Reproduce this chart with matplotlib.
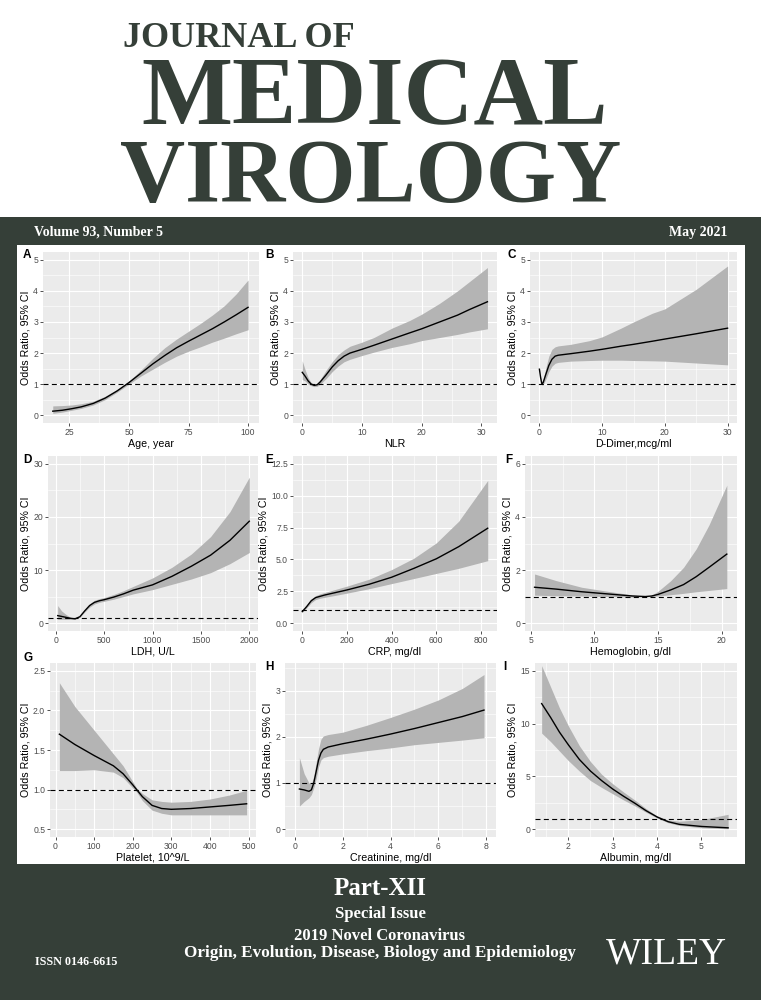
import matplotlib
matplotlib.use("Agg")
import matplotlib.pyplot as plt
from matplotlib.patches import Rectangle
from matplotlib.ticker import FixedLocator, AutoMinorLocator

# couleurs de la couverture
DARK = '#353f38'
PANEL = '#ebebeb'
BAND = '#b4b4b4'

# ---- donnees ----
age_x = [18, 22, 26, 30, 35, 40, 45, 50, 55, 60, 65, 70, 75, 80, 85, 90, 95, 100]
age_or = [0.13, 0.16, 0.21, 0.27, 0.38, 0.55, 0.78, 1.05, 1.35, 1.65, 1.92, 2.17, 2.38, 2.58, 2.78, 3.0, 3.23, 3.47]
age_lo = [0.06, 0.1, 0.16, 0.22, 0.33, 0.5, 0.74, 1.0, 1.26, 1.48, 1.7, 1.9, 2.06, 2.2, 2.35, 2.48, 2.62, 2.75]
age_hi = [0.3, 0.31, 0.33, 0.37, 0.45, 0.61, 0.83, 1.1, 1.45, 1.83, 2.17, 2.45, 2.7, 2.95, 3.22, 3.52, 3.9, 4.35]

nlr_x = [0, 0.5, 1, 1.5, 2, 2.5, 3, 4, 5, 6, 7, 8, 10, 12, 15, 18, 20, 23, 26, 28, 31]
nlr_or = [1.38, 1.25, 1.1, 1.0, 0.96, 0.98, 1.07, 1.3, 1.55, 1.75, 1.9, 2.0, 2.12, 2.25, 2.45, 2.65, 2.78, 3.0, 3.22, 3.4, 3.65]
nlr_lo = [1.15, 1.1, 1.0, 0.95, 0.92, 0.93, 1.0, 1.18, 1.4, 1.58, 1.72, 1.8, 1.92, 2.03, 2.18, 2.3, 2.4, 2.5, 2.6, 2.68, 2.78]
nlr_hi = [1.75, 1.45, 1.2, 1.05, 1.0, 1.03, 1.15, 1.45, 1.72, 1.95, 2.1, 2.22, 2.35, 2.5, 2.8, 3.05, 3.25, 3.6, 4.0, 4.3, 4.75]

dd_x = [0, 0.2, 0.4, 0.6, 1, 1.5, 2, 2.5, 3, 5, 8, 10, 13, 15, 18, 20, 25, 30]
dd_or = [1.48, 1.2, 1.0, 1.05, 1.3, 1.6, 1.8, 1.9, 1.93, 1.98, 2.06, 2.12, 2.22, 2.28, 2.38, 2.45, 2.62, 2.8]
dd_lo = [1.45, 1.15, 0.97, 0.98, 1.15, 1.4, 1.58, 1.67, 1.7, 1.74, 1.76, 1.77, 1.77, 1.76, 1.75, 1.74, 1.68, 1.62]
dd_hi = [1.5, 1.25, 1.05, 1.15, 1.5, 1.9, 2.12, 2.2, 2.23, 2.28, 2.4, 2.52, 2.8, 3.0, 3.28, 3.42, 4.05, 4.8]

ldh_x = [20, 60, 100, 150, 200, 250, 300, 350, 400, 450, 500, 600, 700, 800, 1000, 1200, 1400, 1600, 1800, 2000]
ldh_or = [1.4, 1.25, 1.1, 0.9, 0.8, 1.2, 2.3, 3.3, 3.9, 4.2, 4.4, 4.9, 5.5, 6.2, 7.2, 8.8, 10.7, 12.8, 15.6, 19.2]
ldh_lo = [0.7, 0.7, 0.7, 0.7, 0.72, 1.1, 2.1, 3.0, 3.6, 3.9, 4.1, 4.5, 5.0, 5.5, 6.3, 7.3, 8.3, 9.5, 11.2, 13.3]
ldh_hi = [3.3, 2.3, 1.7, 1.1, 0.85, 1.3, 2.5, 3.6, 4.3, 4.6, 4.8, 5.4, 6.1, 6.9, 8.5, 10.5, 13.0, 16.3, 21.0, 27.5]

crp_x = [0, 20, 40, 60, 80, 100, 150, 200, 300, 400, 500, 600, 700, 830]
crp_or = [0.9, 1.3, 1.75, 2.0, 2.1, 2.2, 2.4, 2.6, 3.05, 3.6, 4.3, 5.05, 6.0, 7.45]
crp_lo = [0.85, 1.2, 1.6, 1.85, 1.95, 2.02, 2.18, 2.35, 2.7, 3.1, 3.5, 3.9, 4.3, 4.9]
crp_hi = [0.95, 1.4, 1.9, 2.15, 2.3, 2.4, 2.65, 2.9, 3.45, 4.2, 5.1, 6.3, 8.0, 11.2]

hb_x = [5.3, 7, 9, 11, 13, 14, 14.5, 15, 16, 17, 18, 19, 20.4]
hb_or = [1.35, 1.28, 1.18, 1.1, 1.02, 1.0, 1.02, 1.08, 1.25, 1.45, 1.75, 2.1, 2.6]
hb_lo = [1.05, 1.03, 1.02, 1.0, 0.98, 0.99, 1.0, 1.02, 1.07, 1.12, 1.18, 1.23, 1.3]
hb_hi = [1.85, 1.6, 1.35, 1.2, 1.06, 1.01, 1.05, 1.2, 1.6, 2.1, 2.8, 3.7, 5.2]

plt_x = [10, 50, 100, 150, 175, 200, 210, 225, 250, 275, 300, 350, 400, 450, 495]
plt_or = [1.7, 1.57, 1.43, 1.3, 1.2, 1.06, 1.0, 0.91, 0.8, 0.76, 0.75, 0.76, 0.78, 0.8, 0.82]
plt_lo = [1.24, 1.24, 1.25, 1.22, 1.15, 1.02, 0.97, 0.86, 0.74, 0.7, 0.68, 0.68, 0.68, 0.68, 0.68]
plt_hi = [2.35, 2.05, 1.75, 1.45, 1.3, 1.1, 1.02, 0.95, 0.87, 0.85, 0.84, 0.85, 0.88, 0.93, 0.99]

cr_x = [0.2, 0.4, 0.6, 0.7, 0.8, 0.9, 1.0, 1.1, 1.2, 1.4, 2, 3, 4, 5, 6, 7, 7.9]
cr_or = [0.87, 0.85, 0.82, 0.85, 1.0, 1.25, 1.5, 1.65, 1.73, 1.78, 1.85, 1.95, 2.06, 2.18, 2.31, 2.44, 2.58]
cr_lo = [0.5, 0.6, 0.68, 0.75, 0.9, 1.1, 1.35, 1.5, 1.55, 1.58, 1.63, 1.7, 1.76, 1.83, 1.88, 1.93, 1.98]
cr_hi = [1.55, 1.2, 1.0, 0.98, 1.15, 1.45, 1.75, 1.95, 2.02, 2.05, 2.1, 2.25, 2.42, 2.6, 2.8, 3.05, 3.35]

alb_x = [1.4, 1.6, 1.8, 2.0, 2.25, 2.5, 2.75, 3.0, 3.25, 3.5, 3.75, 4.0, 4.25, 4.5, 5.0, 5.6]
alb_or = [11.9, 10.6, 9.2, 8.0, 6.6, 5.5, 4.6, 3.8, 3.1, 2.45, 1.75, 1.15, 0.7, 0.45, 0.25, 0.12]
alb_lo = [9.1, 8.3, 7.4, 6.5, 5.5, 4.6, 3.95, 3.35, 2.75, 2.2, 1.6, 1.05, 0.6, 0.35, 0.12, 0.03]
alb_hi = [15.5, 13.5, 11.5, 9.8, 7.9, 6.4, 5.2, 4.3, 3.5, 2.75, 1.95, 1.25, 0.85, 0.75, 0.9, 1.4]

# lettre, x, OR, bas, haut, titre x, ticks x, ticks y, etiquettes y
panels = [
    ('A', age_x, age_or, age_lo, age_hi, 'Age, year', [25, 50, 75, 100], [0, 1, 2, 3, 4, 5], None),
    ('B', nlr_x, nlr_or, nlr_lo, nlr_hi, 'NLR', [0, 10, 20, 30], [0, 1, 2, 3, 4, 5], None),
    ('C', dd_x, dd_or, dd_lo, dd_hi, 'D-Dimer,mcg/ml', [0, 10, 20, 30], [0, 1, 2, 3, 4, 5], None),
    ('D', ldh_x, ldh_or, ldh_lo, ldh_hi, 'LDH, U/L', [0, 500, 1000, 1500, 2000], [0, 10, 20, 30], None),
    ('E', crp_x, crp_or, crp_lo, crp_hi, 'CRP, mg/dl', [0, 200, 400, 600, 800],
     [0, 2.5, 5, 7.5, 10, 12.5], ['0.0', '2.5', '5.0', '7.5', '10.0', '12.5']),
    ('F', hb_x, hb_or, hb_lo, hb_hi, 'Hemoglobin, g/dl', [5, 10, 15, 20], [0, 2, 4, 6], None),
    ('G', plt_x, plt_or, plt_lo, plt_hi, 'Platelet, 10^9/L', [0, 100, 200, 300, 400, 500],
     [0.5, 1.0, 1.5, 2.0, 2.5], ['0.5', '1.0', '1.5', '2.0', '2.5']),
    ('H', cr_x, cr_or, cr_lo, cr_hi, 'Creatinine, mg/dl', [0, 2, 4, 6, 8], [0, 1, 2, 3], None),
    ('I', alb_x, alb_or, alb_lo, alb_hi, 'Albumin, mg/dl', [2, 3, 4, 5], [0, 5, 10, 15], None),
]

# limites des axes (avec l'expansion de ggplot)
xlims = [(13.9, 104.6), (-1.55, 32.6), (-1.5, 31.5), (-80, 2090), (-41.5, 871.5),
         (4.55, 21.2), (-14.3, 519.3), (-0.4, 8.4), (1.25, 5.8)]
ylims = [(-0.25, 5.25), (-0.25, 5.25), (-0.25, 5.25), (-1.5, 31.5), (-0.625, 13.125),
         (-0.3, 6.3), (0.4, 2.6), (-0.17, 3.6), (-0.75, 15.75)]

# position des panneaux en pixels : gauche, droite, haut, bas
boxes = [(43, 259, 252, 423), (293, 497, 252, 423), (530, 737, 252, 423),
         (48, 258, 456, 631), (293, 497, 456, 631), (525, 737, 456, 631),
         (50, 256, 663, 837), (285, 496, 663, 837), (535, 737, 663, 837)]
letters_xy = [(23, 258), (265, 258), (508, 258), (23, 463), (265, 463), (505, 463),
              (24, 661), (265, 670), (503, 670)]

W, H = 761, 1000
fig = plt.figure(figsize=(7.61, 10), dpi=100)
fig.patch.set_facecolor('white')

# fond sombre et cadre blanc
fig.patches.append(Rectangle((0, 0), 1, 1 - 217 / H, transform=fig.transFigure,
                             facecolor=DARK, edgecolor='none', zorder=-3))
fig.patches.append(Rectangle((17 / W, 1 - 864 / H), (745 - 17) / W, (864 - 245) / H,
                             transform=fig.transFigure, facecolor='white',
                             edgecolor='none', zorder=-2))

# titre
serif = 'Liberation Serif'
fig.text(239 / W, 1 - 47 / H, 'JOURNAL OF', fontsize=26, fontweight='bold',
         family=serif, color=DARK, ha='center', va='baseline')
fig.text(375 / W, 1 - 124 / H, 'MEDICAL', fontsize=69.5, fontweight='bold',
         family=serif, color=DARK, ha='center', va='baseline')
fig.text(371 / W, 1 - 202 / H, 'VIROLOGY', fontsize=65, fontweight='bold',
         family=serif, color=DARK, ha='center', va='baseline')
fig.text(34 / W, 1 - 236 / H, 'Volume 93, Number 5', fontsize=10, fontweight='bold',
         family=serif, color='white', ha='left', va='baseline')
fig.text(727 / W, 1 - 236 / H, 'May 2021', fontsize=10, fontweight='bold',
         family=serif, color='white', ha='right', va='baseline')

for i, (let, x, y, lo, hi, xlab, xt, yt, ytl) in enumerate(panels):
    l, r, t, b = boxes[i]
    ax = fig.add_axes([l / W, 1 - b / H, (r - l) / W, (b - t) / H])
    ax.set_facecolor(PANEL)
    ax.fill_between(x, lo, hi, color=BAND, lw=0, zorder=2)
    ax.plot(x, y, color='black', lw=1.0, zorder=3)
    ax.axhline(1, color='black', lw=0.8, ls=(0, (4.5, 3)), zorder=4)
    ax.set_xlim(*xlims[i])
    ax.set_ylim(*ylims[i])
    ax.xaxis.set_major_locator(FixedLocator(xt))
    ax.yaxis.set_major_locator(FixedLocator(yt))
    if ytl:
        ax.set_yticklabels(ytl)
    ax.xaxis.set_minor_locator(AutoMinorLocator(2))
    ax.yaxis.set_minor_locator(AutoMinorLocator(2))
    ax.grid(which='major', color='white', lw=0.8, zorder=1)
    ax.grid(which='minor', color='white', lw=0.4, zorder=1)
    ax.set_axisbelow(True)
    for s in ax.spines.values():
        s.set_visible(False)
    ax.tick_params(which='major', length=2, width=0.6, color='#333333',
                   labelsize=6.2, labelcolor='#4d4d4d', pad=1.5)
    ax.tick_params(which='minor', length=0)
    for lab in ax.get_xticklabels() + ax.get_yticklabels():
        lab.set_family('Liberation Sans')
    ax.set_xlabel(xlab, fontsize=7.7, family='Liberation Sans', labelpad=1.5)
    ax.set_ylabel('Odds Ratio, 95% CI', fontsize=7.7, family='Liberation Sans', labelpad=2)
    lx, ly = letters_xy[i]
    fig.text(lx / W, 1 - ly / H, let, fontsize=8.5, fontweight='bold',
             family='Liberation Sans', ha='left', va='baseline')

# bas de couverture
fig.text(380 / W, 1 - 895 / H, 'Part-XII', fontsize=18, fontweight='bold',
         family=serif, color='white', ha='center', va='baseline')
fig.text(380 / W, 1 - 918 / H, 'Special Issue', fontsize=12, fontweight='bold',
         family=serif, color='white', ha='center', va='baseline')
fig.text(380 / W, 1 - 940 / H, '2019 Novel Coronavirus', fontsize=12, fontweight='bold',
         family=serif, color='white', ha='center', va='baseline')
fig.text(380 / W, 1 - 957 / H, 'Origin, Evolution, Disease, Biology and Epidemiology',
         fontsize=12.3, fontweight='bold', family=serif, color='white',
         ha='center', va='baseline')
fig.text(35 / W, 1 - 965 / H, 'ISSN 0146-6615', fontsize=8.7, fontweight='bold',
         family=serif, color='white', ha='left', va='baseline')
fig.text(727 / W, 1 - 964 / H, 'WILEY', fontsize=27, family=serif,
         color='white', ha='right', va='baseline')

fig.savefig('out.png', dpi=100)
